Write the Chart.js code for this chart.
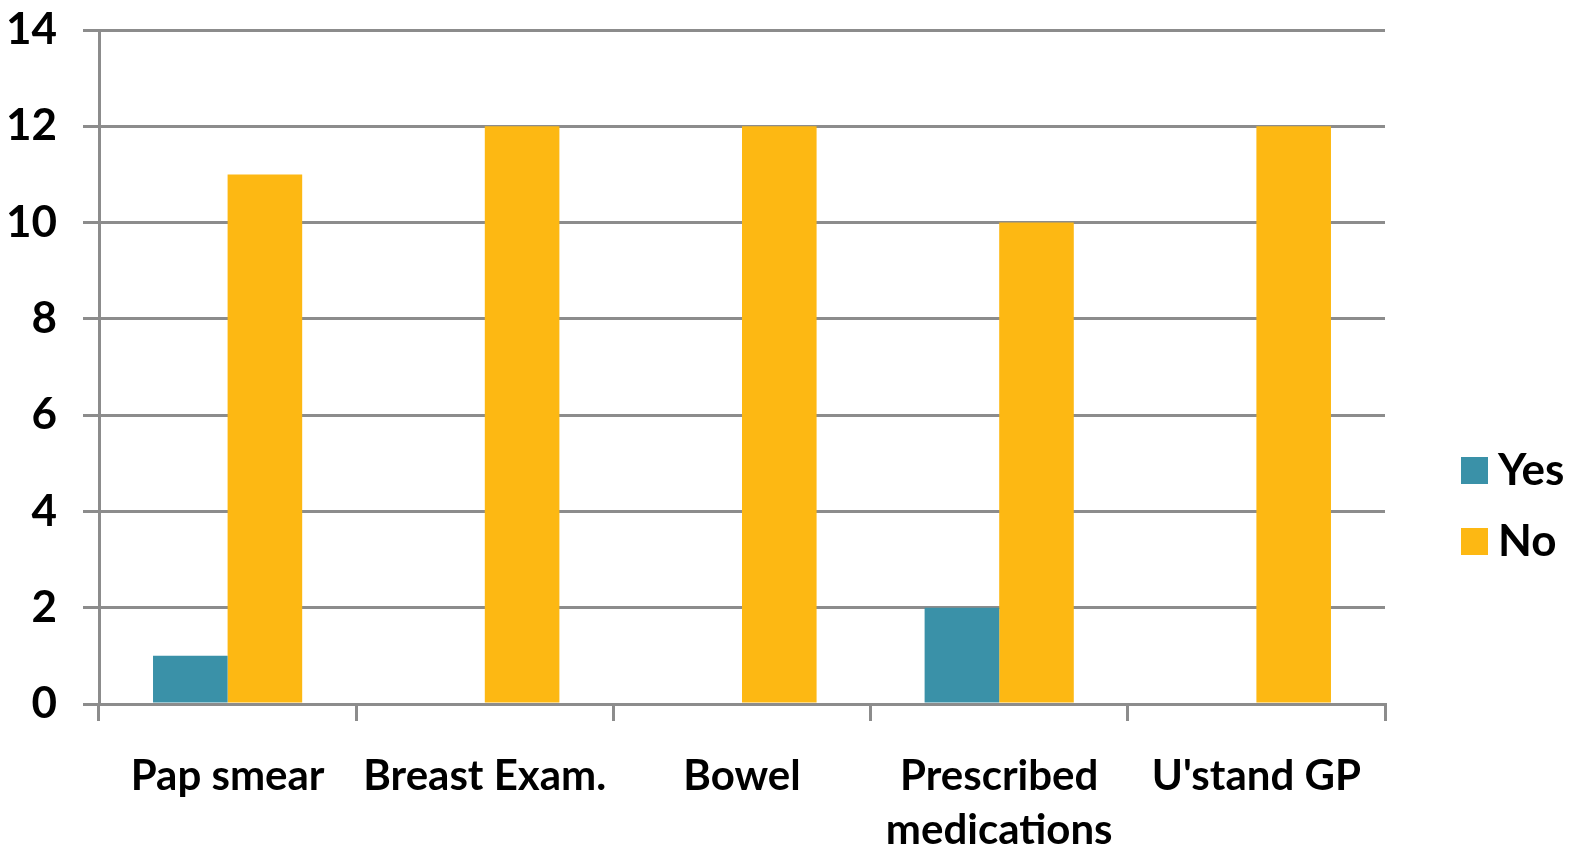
<!DOCTYPE html>
<html><head><meta charset="utf-8">
<script src="https://cdn.jsdelivr.net/npm/chart.js@4"></script>
<style>html,body{margin:0;padding:0;background:#fff}#wrap{width:1575px;height:854px}</style>
</head><body><div id="wrap"><canvas id="c" width="1575" height="854"></canvas></div>
<script>
const categories = ['Pap smear', 'Breast Exam.', 'Bowel', ['Prescribed', 'medications'], "U'stand GP"];
const yesValues = [1, 0, 0, 2, 0];
const noValues = [11, 12, 12, 10, 12];
const seriesNames = ['Yes', 'No'];
const seriesColors = ['#3A91A8', '#FDB813'];
const yTicks = [0, 2, 4, 6, 8, 10, 12, 14];

const FONT = 'Lato';
const gridColor = '#8c8c8c';

const legendPlugin = {
  id: 'customLegend',
  afterDraw(chart) {
    const ctx = chart.ctx;
    ctx.save();
    chart.data.datasets.forEach((ds, i) => {
      const y = 470 + i * 71;
      ctx.fillStyle = ds.backgroundColor;
      ctx.fillRect(1461, y - 13, 27, 27);
      ctx.fillStyle = '#000';
      ctx.font = 'bold 44px ' + FONT;
      ctx.textBaseline = 'middle';
      ctx.fillText(ds.label, 1498, y + 1);
    });
    ctx.restore();
  }
};

new Chart(document.getElementById('c'), {
  type: 'bar',
  data: {
    labels: categories,
    datasets: [
      { label: seriesNames[0], data: yesValues, backgroundColor: seriesColors[0] },
      { label: seriesNames[1], data: noValues, backgroundColor: seriesColors[1] }
    ]
  },
  options: {
    responsive: false,
    animation: false,
    layout: { padding: { top: 30, right: 190, left: 0, bottom: 0 } },
    datasets: { bar: { categoryPercentage: 0.58, barPercentage: 1.0 } },
    plugins: { legend: { display: false }, tooltip: { enabled: false } },
    scales: {
      x: {
        grid: { display: true, drawOnChartArea: false, drawTicks: true, tickLength: 17, color: gridColor, lineWidth: 3 },
        border: { display: true, color: gridColor, width: 3 },
        ticks: { color: '#000', font: { family: FONT, size: 42, weight: 'bold', lineHeight: 1.3 }, padding: 28, maxRotation: 0, autoSkip: false },
        afterFit(s) { s.height = 150; s.paddingLeft = 0; s.paddingRight = 0; }
      },
      y: {
        min: 0, max: 14,
        afterBuildTicks(s) { s.ticks = yTicks.map(v => ({ value: v })); },
        grid: { color: gridColor, lineWidth: 3, tickLength: 16 },
        border: { display: true, color: gridColor, width: 3 },
        ticks: { color: '#000', font: { family: FONT, size: 44, weight: 'bold' }, padding: 26 },
        afterFit(s) { s.width = 99; s.paddingTop = 0; s.paddingBottom = 0; }
      }
    }
  },
  plugins: [legendPlugin]
});
</script>
</body></html>
